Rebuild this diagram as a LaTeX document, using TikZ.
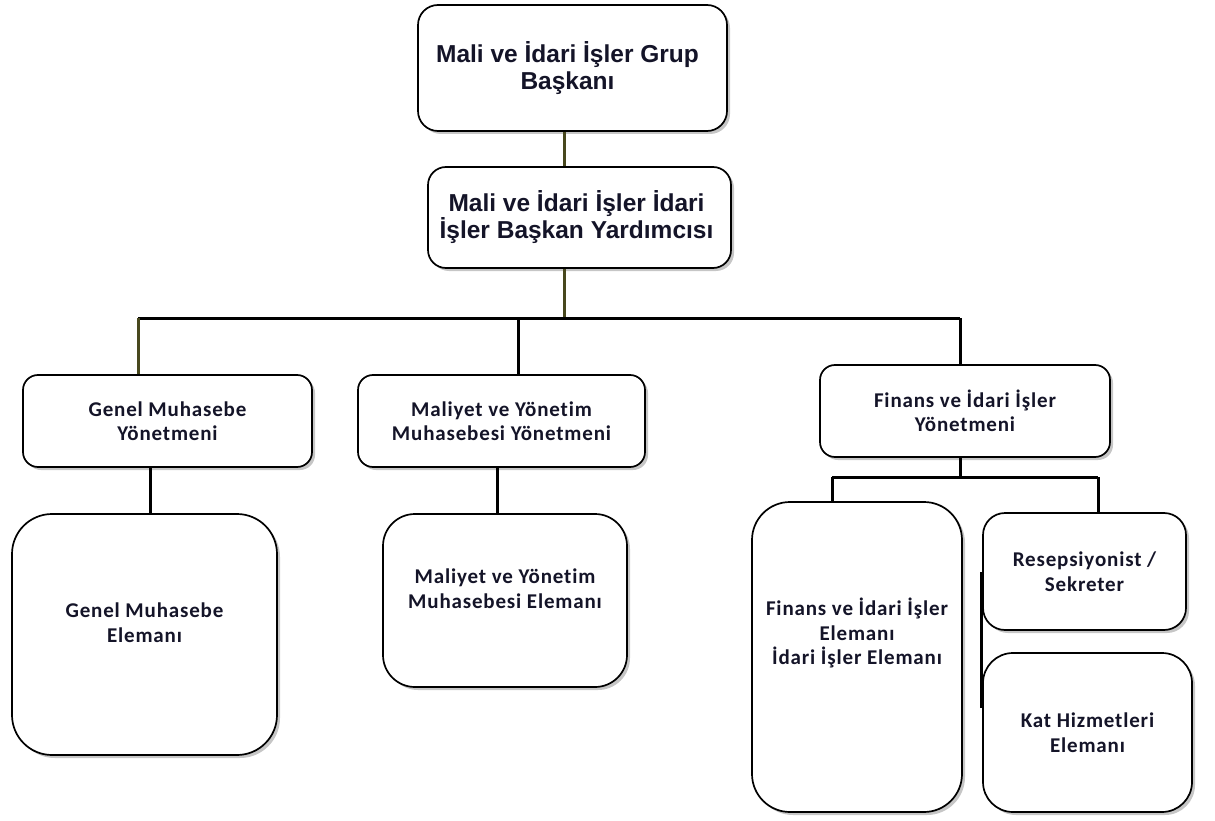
\documentclass[tikz,border=0pt]{standalone}
\usepackage{fontspec}
\setmainfont{Liberation Sans}
\newfontfamily\calfont{Carlito}[LetterSpace=4, Ligatures=NoCommon]
\usetikzlibrary{shadows,calc}
\definecolor{txt}{RGB}{20,20,40}
\definecolor{olive}{RGB}{72,72,30}
\tikzset{
  box/.style={draw=black, line width=1.7pt, fill=white, inner sep=0pt, align=center,
    text=txt, drop shadow={shadow xshift=3pt, shadow yshift=-3pt, opacity=0.45, fill=gray}},
  bigtxt/.style={font=\fontsize{24.5}{27}\selectfont\bfseries},
  caltxt/.style={font=\calfont\fontsize{21}{24.5}\selectfont\bfseries},
  lbl/.style={text=txt, align=center, caltxt},
  conn/.style={draw=black, line width=3pt},
  oconn/.style={draw=olive, line width=3pt},
}
\begin{document}
\begin{tikzpicture}[x=1pt,y=-1pt]
\useasboundingbox (0,0) rectangle (1215,821);
% boxes
\node[box, rounded corners=20pt, minimum width=309pt, minimum height=126pt,
  label={[text=txt, align=center, bigtxt, xshift=-5pt]center:Mali ve İdari İşler Grup\\Başkanı}] (top) at (572.5,68) {};
\node[box, rounded corners=18pt, minimum width=303pt, minimum height=101pt,
  label={[text=txt, align=center, bigtxt, xshift=-3pt]center:Mali ve İdari İşler İdari\\İşler Başkan Yardımcısı}] (vice) at (579.5,217.5) {};
\node[box, caltxt, rounded corners=15pt, minimum width=289pt, minimum height=92pt] (gmy) at (167.5,421) {Genel Muhasebe\\Yönetmeni};
\node[box, caltxt, rounded corners=15pt, minimum width=287pt, minimum height=92pt] (mmy) at (501.5,421) {Maliyet ve Yönetim\\Muhasebesi Yönetmeni};
\node[box, caltxt, rounded corners=15pt, minimum width=290pt, minimum height=92pt] (fiy) at (965,411) {Finans ve İdari İşler\\Yönetmeni};
\node[box, rounded corners=40pt, minimum width=265pt, minimum height=241pt,
  label={[lbl, yshift=12pt]center:Genel Muhasebe\\Elemanı}] (gme) at (144.5,634.5) {};
\node[box, rounded corners=32pt, minimum width=244pt, minimum height=173pt,
  label={[lbl, yshift=12pt]center:Maliyet ve Yönetim\\Muhasebesi Elemanı}] (mme) at (505,600.5) {};
\node[box, rounded corners=38pt, minimum width=210pt, minimum height=310pt,
  label={[lbl, yshift=24pt]center:Finans ve İdari İşler\\Elemanı\\İdari İşler Elemanı}] (fie) at (857,657) {};
\node[box, caltxt, rounded corners=22pt, minimum width=203pt, minimum height=117pt] (rs) at (1084.5,571.5) {Resepsiyonist /\\Sekreter};
\node[box, caltxt, rounded corners=30pt, minimum width=209pt, minimum height=159pt] (kh) at (1087.5,732.5) {Kat Hizmetleri\\Elemanı};
% helper coordinates
\coordinate (xa) at (564,0);
\coordinate (bar) at (0,318);
\coordinate (xg) at (138,0);
\coordinate (xm) at (518,0);
\coordinate (xf) at (960,0);
\coordinate (xg2) at (150,0);
\coordinate (xm2) at (497,0);
\coordinate (bar2) at (0,477);
\coordinate (xfe) at (832,0);
\coordinate (xrs) at (1098,0);
\coordinate (s1) at (981,572);
\coordinate (s2) at (981,708);
% connectors
\draw[oconn] (top.south -| xa) -- (vice.north -| xa);
\draw[oconn] (vice.south -| xa) -- (xa |- bar);
\draw[conn] (xg |- bar) -- (xf |- bar);
\draw[oconn] (xg |- bar) -- (gmy.north -| xg);
\draw[conn] (xm |- bar) -- (mmy.north -| xm);
\draw[conn] (xf |- bar) -- (fiy.north -| xf);
\draw[conn] (gmy.south -| xg2) -- (gme.north -| xg2);
\draw[conn] (mmy.south -| xm2) -- (mme.north -| xm2);
\draw[conn] (fiy.south -| xf) -- (xf |- bar2);
\draw[conn] (xfe |- bar2) -- (xrs |- bar2);
\draw[conn] (xfe |- bar2) -- (fie.north -| xfe);
\draw[conn] (xrs |- bar2) -- (rs.north -| xrs);
\draw[conn] (s1) -- (s2);
\end{tikzpicture}
\end{document}
